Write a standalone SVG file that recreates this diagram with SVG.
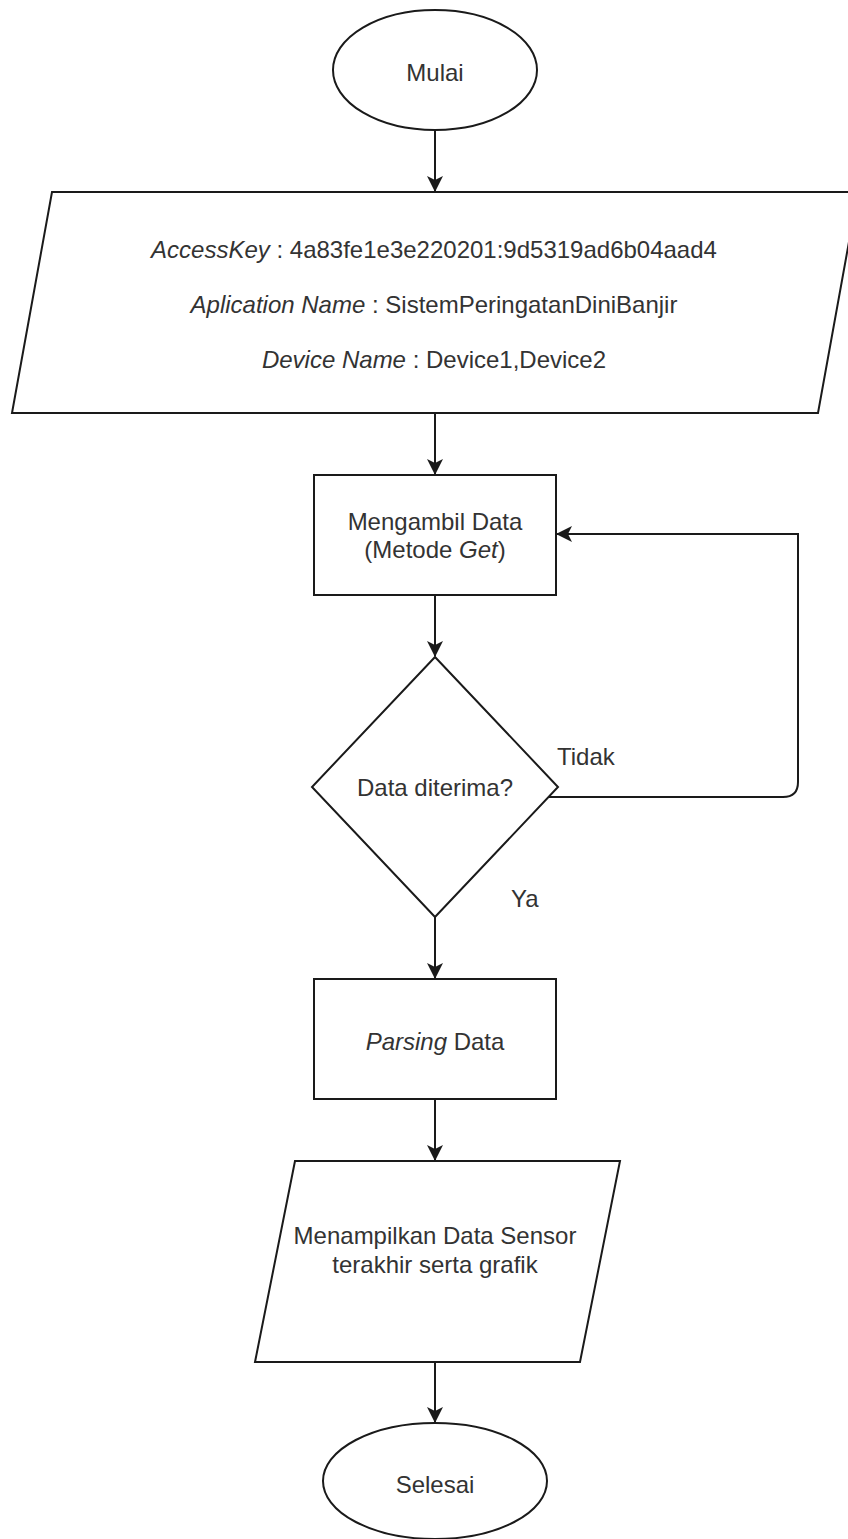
<svg xmlns="http://www.w3.org/2000/svg" width="848" height="1539" viewBox="0 0 848 1539">
  <style>
    .shape { fill: #ffffff; stroke: #1a1a1a; stroke-width: 2; }
    .edge { fill: none; stroke: #1a1a1a; stroke-width: 2; }
    text { font-family: "Liberation Sans", Arial, sans-serif; font-size: 24px; fill: #333333; text-anchor: middle; }
    .it { font-style: italic; }
    .lbl { text-anchor: start; }
  </style>
  <defs>
    <marker id="arrow" markerUnits="userSpaceOnUse" markerWidth="16" markerHeight="16" viewBox="0 0 16 16" refX="15" refY="8" orient="auto">
      <path d="M0,0 L16,8 L0,16 L4,8 Z" fill="#1a1a1a"/>
    </marker>
  </defs>
  <rect width="848" height="1539" fill="#ffffff"/>

  <!-- connectors -->
  <g id="connectors">
    <line class="edge" x1="435" y1="130" x2="435" y2="191" marker-end="url(#arrow)"/>
    <line class="edge" x1="435" y1="413" x2="435" y2="474" marker-end="url(#arrow)"/>
    <line class="edge" x1="435" y1="595" x2="435" y2="656" marker-end="url(#arrow)"/>
    <line class="edge" x1="435" y1="917" x2="435" y2="978" marker-end="url(#arrow)"/>
    <line class="edge" x1="435" y1="1099" x2="435" y2="1160" marker-end="url(#arrow)"/>
    <line class="edge" x1="435" y1="1362" x2="435" y2="1422" marker-end="url(#arrow)"/>
    <path class="edge" d="M549,797 L783,797 Q798,797 798,782 L798,534 L557,534" marker-end="url(#arrow)"/>
    <text class="lbl" x="557" y="765">Tidak</text>
    <text class="lbl" x="511" y="907">Ya</text>
  </g>

  <g id="start">
    <ellipse class="shape" cx="435" cy="70" rx="102" ry="60"/>
    <text x="435" y="81">Mulai</text>
  </g>

  <g id="input-config">
    <polygon class="shape" points="52,192 858,192 818,413 12,413"/>
    <text x="434" y="258"><tspan class="it">AccessKey</tspan> : 4a83fe1e3e220201:9d5319ad6b04aad4</text>
    <text x="434" y="313"><tspan class="it">Aplication Name</tspan> : SistemPeringatanDiniBanjir</text>
    <text x="434" y="368"><tspan class="it">Device Name</tspan> : Device1,Device2</text>
  </g>

  <g id="fetch-data">
    <rect class="shape" x="314" y="475" width="242" height="120"/>
    <text x="435" y="530">Mengambil Data</text>
    <text x="435" y="558">(Metode <tspan class="it">Get</tspan>)</text>
  </g>

  <g id="decision">
    <polygon class="shape" points="435,657 558,787 435,917 312,787"/>
    <text x="435" y="796">Data diterima?</text>
  </g>

  <g id="parse-data">
    <rect class="shape" x="314" y="979" width="242" height="120"/>
    <text x="435" y="1050"><tspan class="it">Parsing</tspan> Data</text>
  </g>

  <g id="display-output">
    <polygon class="shape" points="295,1161 620,1161 580,1362 255,1362"/>
    <text x="435" y="1244">Menampilkan Data Sensor</text>
    <text x="435" y="1273">terakhir serta grafik</text>
  </g>

  <g id="end">
    <ellipse class="shape" cx="435" cy="1481" rx="112" ry="58"/>
    <text x="435" y="1493">Selesai</text>
  </g>
</svg>
